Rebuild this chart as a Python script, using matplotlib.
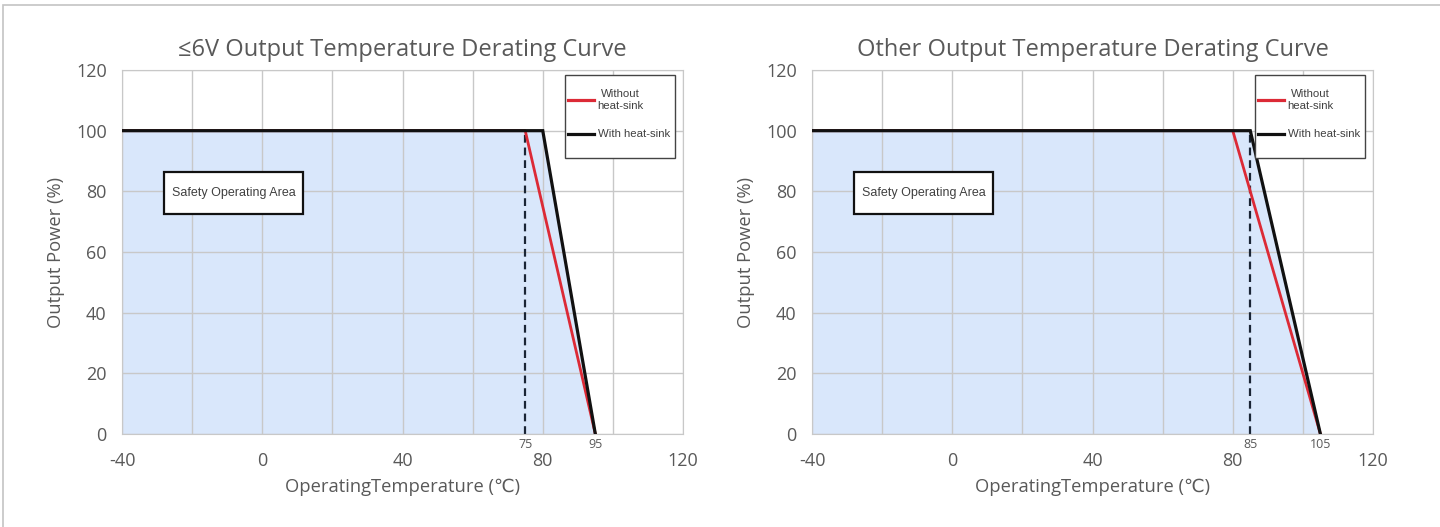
import numpy as np
import matplotlib
matplotlib.use("Agg")
import matplotlib.pyplot as plt
from matplotlib.patches import Rectangle
from matplotlib.lines import Line2D

plt.rcParams['font.family'] = ['Open Sans', 'DejaVu Sans', 'Noto Sans CJK SC']
plt.rcParams['axes.unicode_minus'] = False

# data
titles = ['≤6V Output Temperature Derating Curve', 'Other Output Temperature Derating Curve']
temp_no_sink = [[-40, 75, 95], [-40, 80, 105]]
temp_with_sink = [[-40, 80, 95], [-40, 85, 105]]
power_curve = [100, 100, 0]
dash_temp = [75, 85]
marked_temps = [[75, 95], [85, 105]]
legend_labels = ['Without\nheat-sink', 'With heat-sink']
x_ticks = [-40, 0, 40, 80, 120]
y_ticks = [0, 20, 40, 60, 80, 100, 120]

TEXT = '#595959'
RED = '#dc2a36'
BLACK = '#111111'
FILL = '#d9e7fb'
GRID = '#c8c8c8'

fig = plt.figure(figsize=(14.4, 5.27), dpi=100)
fig.patches.append(Rectangle((3 / 1440, -0.05), 1.2, 1.05 - 5 / 527,
                             transform=fig.transFigure, fill=False,
                             edgecolor='#c4c4c4', lw=1.2))

lefts = [122 / 1440, 812 / 1440]
for i in range(2):
    ax = fig.add_axes([lefts[i], 1 - 434 / 527, 561 / 1440, 364 / 527])
    ax.set_axisbelow(True)

    ax.fill_between(temp_with_sink[i], 0, power_curve, color=FILL, lw=0, zorder=0.4)
    ax.plot(temp_no_sink[i], power_curve, color=RED, lw=2.0, zorder=3)
    ax.plot(temp_with_sink[i], power_curve, color=BLACK, lw=2.3, zorder=4,
            solid_joinstyle='miter')
    ax.plot([dash_temp[i], dash_temp[i]], [0, 100], color='#1a2535', lw=1.6,
            linestyle=(0, (3.5, 2.2)), zorder=2.5)

    ax.set_xlim(-40, 120)
    ax.set_ylim(0, 120)
    ax.set_xticks(x_ticks)
    ax.set_xticks(np.arange(-40, 121, 20), minor=True)
    ax.set_yticks(y_ticks)
    ax.grid(True, which='both', color=GRID, lw=1)
    ax.tick_params(which='both', length=0, labelsize=13, labelcolor=TEXT)
    ax.tick_params(axis='x', pad=13)
    ax.tick_params(axis='y', pad=11)
    for s in ax.spines.values():
        s.set_color(GRID)

    ax.set_title(titles[i], fontsize=17, color=TEXT, pad=10)
    ax.set_xlabel('OperatingTemperature (℃)', fontsize=13.2, color=TEXT, labelpad=6)
    ax.set_ylabel('Output Power (%)', fontsize=13.2, color=TEXT, labelpad=8)

    for t in marked_temps[i]:
        ax.annotate(str(t), xy=(t, 0), xycoords=('data', 'axes fraction'),
                    xytext=(0, -3), textcoords='offset points', ha='center',
                    va='top', fontsize=9, color=TEXT)

    # safety operating area box
    ax.add_patch(Rectangle((0.0749, 0.604), 0.2477, 0.1158, transform=ax.transAxes,
                           fc='white', ec=BLACK, lw=1.6, zorder=6))
    ax.text(0.199, 0.662, 'Safety Operating Area', transform=ax.transAxes,
            ha='center', va='center', fontsize=9, color='#404040', zorder=7,
            family=['Liberation Sans', 'DejaVu Sans'])

    # legend box
    ax.add_patch(Rectangle((0.79, 0.758), 0.196, 0.228, transform=ax.transAxes,
                           fc='white', ec='#444444', lw=1.0, zorder=6))
    for j, (lab, col) in enumerate(zip(legend_labels, [RED, BLACK])):
        yy = [0.918, 0.825][j]
        ax.add_line(Line2D([0.795, 0.842], [yy, yy], transform=ax.transAxes,
                           color=col, lw=2.3, zorder=7))
        ax.text(0.848, yy, lab, transform=ax.transAxes, ha='left', va='center',
                multialignment='center', fontsize=8.2, color='#404040', zorder=7,
                family=['Liberation Sans', 'DejaVu Sans'], linespacing=1.3)

fig.savefig('out.png', dpi=100)
